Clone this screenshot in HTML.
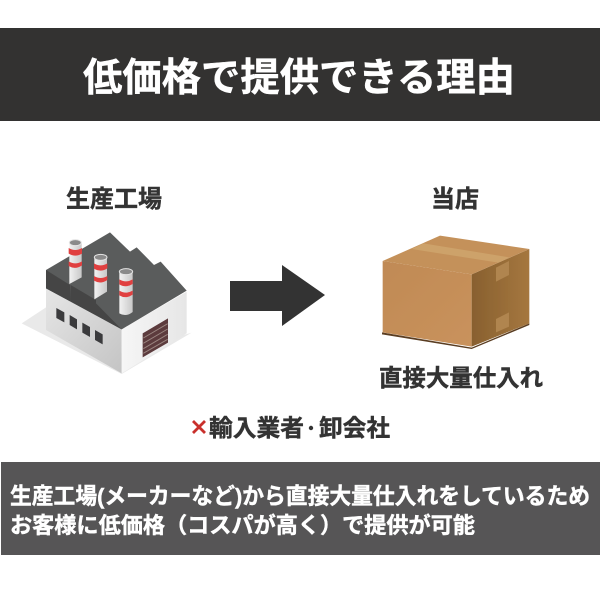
<!DOCTYPE html>
<html lang="ja"><head><meta charset="utf-8"><style>
html,body{margin:0;padding:0;background:#fff}
svg{display:block}
text{font-family:"Liberation Sans","Noto Sans CJK JP",sans-serif;font-weight:700}
.b{stroke-width:.45px}
</style></head><body>
<svg width="600" height="600" viewBox="0 0 600 600" xmlns="http://www.w3.org/2000/svg">
<defs>
<linearGradient id="lw" x1="0" y1="0" x2="1" y2="1"><stop offset="0" stop-color="#e6e6e6"/><stop offset="1" stop-color="#c4c4c4"/></linearGradient>
<linearGradient id="rw" x1="0" y1="0" x2="1" y2="0"><stop offset="0" stop-color="#f6f6f6"/><stop offset="1" stop-color="#e6e6e6"/></linearGradient>
<linearGradient id="bf" x1="0" y1="0" x2="1" y2="1"><stop offset="0" stop-color="#c08a55"/><stop offset="1" stop-color="#c9925c"/></linearGradient>
<linearGradient id="bs" x1="0" y1="0" x2="1" y2="0"><stop offset="0" stop-color="#88602f"/><stop offset="1" stop-color="#a5773f"/></linearGradient>
<linearGradient id="ch" x1="0" y1="0" x2="1" y2="0"><stop offset="0" stop-color="#f2f2f2"/><stop offset="1" stop-color="#c8c8c8"/></linearGradient>
<filter id="soft" x="-5%" y="-5%" width="110%" height="110%"><feGaussianBlur stdDeviation="0.35"/></filter>
</defs>
<rect x="0" y="28" width="600" height="93" fill="#333231"/>
<text class="b" x="83" y="91" font-size="39" fill="#fff" stroke="#fff" textLength="432" lengthAdjust="spacingAndGlyphs">低価格で提供できる理由</text>
<text class="b" x="66" y="207" font-size="24" fill="#333" stroke="#333" textLength="96" lengthAdjust="spacingAndGlyphs">生産工場</text>
<text class="b" x="431" y="207" font-size="24" fill="#333" stroke="#333" textLength="48" lengthAdjust="spacingAndGlyphs">当店</text>

<g transform="translate(10,220) scale(.33333)" filter="url(#soft)">
<polygon points="35,310 108,262 335,400 545,338 335,462" fill="#e9e9e9"/>
<polygon points="108,205 335,328 335,460 108,330" fill="url(#lw)"/>
<polygon points="335,328 530,215 530,340 335,460" fill="url(#rw)"/>
<polygon points="108,150 300,37 360,95 380,82 432,135 452,125 530,212 335,328 108,205" fill="#5a5b5b"/>
<polygon points="108,150 180,195 182,245 108,205" fill="#444545"/>
<polygon points="182,195 258,240 258,286 182,245" fill="#444545"/>
<polygon points="258,250 335,328 258,286" fill="#444545"/>
<g fill="#3a3a3c">
<polygon points="139,264 163,277 163,307 139,294"/>
<polygon points="179,285 201,298 201,328 179,315"/>
<polygon points="217,308 240,321 240,351 217,338"/>
<polygon points="255,330 278,343 278,373 255,360"/>
</g>
<polygon points="398,340 474,295 474,368 398,412" fill="#5b3a3c"/>
<g stroke="#9a8580" stroke-width="3" fill="none">
<path d="M400,354 L473,311M400,370 L473,327M400,386 L473,343M400,400 L473,358"/>
</g>
<g>
<path d="M178,70 V192 L215,172 V70 Z" fill="url(#ch)"/>
<ellipse cx="196" cy="68" rx="18" ry="9" fill="#8a8a8a" stroke="#e4e4e4" stroke-width="3"/>
<path d="M176,84 Q196,96 216,84 V101 Q196,113 176,101 Z" fill="#e04040"/>
<path d="M176,124 Q196,136 216,124 V136 Q196,150 176,138 Z" fill="#e04040"/>
<path d="M253,112 V238 L291,215 V112 Z" fill="url(#ch)"/>
<ellipse cx="272" cy="112" rx="19" ry="9" fill="#8a8a8a" stroke="#e4e4e4" stroke-width="3"/>
<path d="M252,130 Q272,142 292,130 V145 Q272,158 252,146 Z" fill="#e04040"/>
<path d="M252,168 Q272,180 292,168 V180 Q272,194 252,182 Z" fill="#e04040"/>
<path d="M328,155 V280 Q348,292 368,276 V155 Z" fill="url(#ch)"/>
<ellipse cx="348" cy="155" rx="20" ry="9" fill="#8a8a8a" stroke="#e4e4e4" stroke-width="3"/>
<path d="M328,178 Q348,190 368,178 V192 Q348,205 328,193 Z" fill="#e04040"/>
<path d="M328,212 Q348,224 368,212 V224 Q348,238 328,226 Z" fill="#e04040"/>
</g>
</g>

<polygon points="230,281 282,281 282,265 325,295 282,326 282,311 230,311" fill="#333"/>

<g transform="translate(370,225) scale(.33333)" filter="url(#soft)">
<polygon points="36,322 305,368 478,295 478,300 305,372 36,328" fill="#5a3d20"/>
<polygon points="38,108 305,148 305,365 38,322" fill="url(#bf)"/>
<polygon points="305,148 478,72 478,295 305,365" fill="url(#bs)"/>
<polygon points="38,108 210,32 478,72 305,148" fill="#c4915a"/>
<polygon points="160,55 125,72 385,113 418,97" fill="#cda26a"/>
<polygon points="378,128 417,108 417,150 378,170" fill="#b08550"/>
<polygon points="378,282 417,262 417,305 378,322" fill="#b08550"/>
</g>

<text class="b" x="379" y="386" font-size="23.4" fill="#333" stroke="#333" textLength="164" lengthAdjust="spacingAndGlyphs">直接大量仕入れ</text>
<path d="M193,421 L205,433 M205,421 L193,433" stroke="#c9302c" stroke-width="2.8" fill="none"/>
<text class="b" x="209" y="436" font-size="23.5" fill="#333" stroke="#333" textLength="95" lengthAdjust="spacingAndGlyphs">輸入業者</text>
<circle cx="311" cy="428" r="2.2" fill="#333"/>
<text class="b" x="319" y="436" font-size="23.5" fill="#333" stroke="#333" textLength="71" lengthAdjust="spacingAndGlyphs">卸会社</text>

<rect x="1" y="462" width="599" height="93" fill="#565556"/>
<text class="b" x="10" y="504" font-size="22.5" fill="#fff" stroke="#fff" textLength="580" lengthAdjust="spacingAndGlyphs">生産工場(メーカーなど)から直接大量仕入れをしているため</text>
<text class="b" x="10" y="533" font-size="22" fill="#fff" stroke="#fff" textLength="465" lengthAdjust="spacingAndGlyphs">お客様に低価格（コスパが高く）で提供が可能</text>
</svg>
</body></html>
